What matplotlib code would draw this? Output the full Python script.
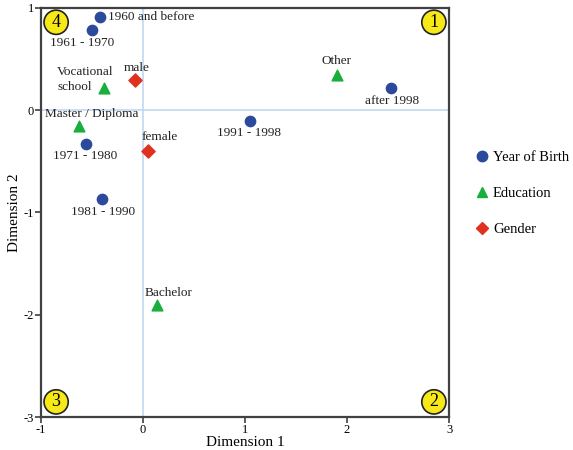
import matplotlib.pyplot as plt
from matplotlib.lines import Line2D

plt.rcParams["font.family"] = ["Liberation Serif", "DejaVu Serif"]
plt.rcParams["axes.unicode_minus"] = False

# category coordinates on the two dimensions
birth_labels = ["1960 and before", "1961 - 1970", "1971 - 1980", "1981 - 1990", "1991 - 1998", "after 1998"]
birth_dim1 = [-0.42, -0.50, -0.56, -0.40, 1.05, 2.43]
birth_dim2 = [0.91, 0.78, -0.33, -0.87, -0.11, 0.22]

edu_labels = ["Vocational\nschool", "Master / Diploma", "Bachelor", "Other"]
edu_dim1 = [-0.38, -0.63, 0.14, 1.90]
edu_dim2 = [0.22, -0.15, -1.90, 0.34]

gender_labels = ["male", "female"]
gender_dim1 = [-0.08, 0.05]
gender_dim2 = [0.30, -0.40]

quadrants = ["1", "2", "3", "4"]

BLUE = "#2c4a9c"
GREEN = "#18ae3c"
RED = "#e0301e"

# label offsets in pixels (dx, dy, ha)
birth_offsets = [(8, 0, "left"), (-10, -13, "center"), (-1, -12, "center"),
                 (1, -13, "center"), (-1, -12, "center"), (1, -13, "center")]
edu_offsets = [(-47, 8, "left"), (13, 12, "center"), (11, 12, "center"), (0, 14, "center")]
gender_offsets = [(2, 12, "center"), (12, 14, "center")]

fig = plt.figure(figsize=(5.73, 4.5), dpi=100)
ax = fig.add_axes([0.0716, 0.0733, 0.712, 0.909])

ax.axhline(0, color="#bcd4f0", lw=1.1, zorder=0)
ax.axvline(0, color="#bcd4f0", lw=1.1, zorder=0)

ax.scatter(birth_dim1, birth_dim2, s=55, marker="o", color=BLUE, zorder=3)
ax.scatter(edu_dim1, edu_dim2, s=60, marker="^", color=GREEN, zorder=3)
ax.scatter(gender_dim1, gender_dim2, s=45, marker="D", color=RED, zorder=3)


def label_points(xs, ys, labels, offsets):
    for x, y, text, (dx, dy, ha) in zip(xs, ys, labels, offsets):
        ax.annotate(text, (x, y), xytext=(dx, dy), textcoords="offset pixels",
                    ha=ha, va="center", fontsize=9.5, color="#222222",
                    linespacing=1.3)


label_points(birth_dim1, birth_dim2, birth_labels, birth_offsets)
label_points(edu_dim1, edu_dim2, edu_labels, edu_offsets)
label_points(gender_dim1, gender_dim2, gender_labels, gender_offsets)

# numbered quadrant badges in the corners
corner_pos = {"1": (0.963, 0.965), "2": (0.963, 0.037), "3": (0.037, 0.037), "4": (0.037, 0.965)}
for q in quadrants:
    cx, cy = corner_pos[q]
    ax.text(cx, cy, q, transform=ax.transAxes, ha="center", va="center", fontsize=13,
            bbox=dict(boxstyle="circle,pad=0.2", fc="#f7e818", ec="#222222", lw=1.2))

ax.set_xlim(-1, 3)
ax.set_ylim(-3, 1)
ax.set_xticks([-1, 0, 1, 2, 3])
ax.set_yticks([-3, -2, -1, 0, 1])
ax.tick_params(labelsize=9, length=4, width=1.2, color="#404040", pad=1)
for spine in ax.spines.values():
    spine.set_color("#404040")
    spine.set_linewidth(1.6)

ax.set_xlabel("Dimension 1", fontsize=11, labelpad=0)
ax.set_ylabel("Dimension 2", fontsize=11, labelpad=2)

handles = [
    Line2D([], [], marker="o", ls="", color=BLUE, markersize=7.5, label="Year of Birth"),
    Line2D([], [], marker="^", ls="", color=GREEN, markersize=7.5, label="Education"),
    Line2D([], [], marker="D", ls="", color=RED, markersize=6, label="Gender"),
]
fig.legend(handles=handles, loc="center left", bbox_to_anchor=(0.826, 0.57), frameon=False,
           fontsize=10.5, handletextpad=0.15, labelspacing=1.55, handlelength=1.2,
           borderaxespad=0, borderpad=0)

fig.savefig("out.png", dpi=100)
